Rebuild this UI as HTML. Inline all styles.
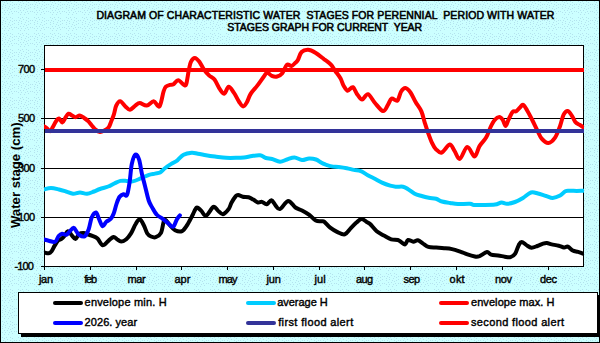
<!DOCTYPE html>
<html><head><meta charset="utf-8"><style>
html,body{margin:0;padding:0;width:600px;height:343px;overflow:hidden;background:#ccffff}
svg{display:block}
text{font-family:"Liberation Sans", sans-serif;font-weight:bold;fill:#000}
.sb{font-weight:normal;stroke:#000;stroke-width:0.4px}
.sbt{font-weight:normal;stroke:#000;stroke-width:0.55px}
</style></head><body>
<svg width="600" height="343" viewBox="0 0 600 343">
<defs>
<pattern id="dots" width="16" height="16" patternUnits="userSpaceOnUse">
<rect width="16" height="16" fill="#ccffff"/>
<path d="M2,1h1v1h-1zM6,1h1v1h-1zM10,1h1v1h-1zM4,2h1v1h-1zM12,2h1v1h-1zM7,3h1v1h-1zM0,4h1v1h-1zM3,4h1v1h-1zM10,4h1v1h-1zM14,4h1v1h-1zM5,5h1v1h-1zM12,5h1v1h-1zM2,6h1v1h-1zM9,6h1v1h-1zM5,7h1v1h-1zM14,7h1v1h-1zM2,8h1v1h-1zM8,8h1v1h-1zM12,8h1v1h-1zM10,9h1v1h-1zM4,10h1v1h-1zM7,10h1v1h-1zM0,11h1v1h-1zM11,11h1v1h-1zM14,11h1v1h-1zM2,12h1v1h-1zM5,12h1v1h-1zM9,12h1v1h-1zM12,13h1v1h-1zM4,14h1v1h-1zM8,14h1v1h-1z" fill="#b4e2ee"/>
</pattern>
<clipPath id="pc"><rect x="44" y="45" width="540" height="222"/></clipPath>
</defs>
<rect x="0" y="0" width="600" height="343" fill="url(#dots)"/>
<rect x="0.5" y="0.5" width="599" height="342" fill="none" stroke="#000" stroke-width="1"/>
<!-- title -->
<!-- plot area -->
<rect x="44.5" y="45.5" width="539" height="221" fill="#fff" stroke="#000" stroke-width="1"/>
<line x1="44" y1="118.5" x2="584" y2="118.5" stroke="#000" stroke-width="1"/>
<line x1="44" y1="168.5" x2="584" y2="168.5" stroke="#000" stroke-width="1"/>
<line x1="44" y1="217.5" x2="584" y2="217.5" stroke="#000" stroke-width="1"/>
<line x1="41" y1="69.5" x2="44" y2="69.5" stroke="#000" stroke-width="1"/>
<line x1="41" y1="118.5" x2="44" y2="118.5" stroke="#000" stroke-width="1"/>
<line x1="41" y1="168.5" x2="44" y2="168.5" stroke="#000" stroke-width="1"/>
<line x1="41" y1="217.5" x2="44" y2="217.5" stroke="#000" stroke-width="1"/>
<line x1="41" y1="266.5" x2="44" y2="266.5" stroke="#000" stroke-width="1"/>
<line x1="44.5" y1="266" x2="44.5" y2="270" stroke="#000" stroke-width="1"/>
<line x1="90.5" y1="266" x2="90.5" y2="270" stroke="#000" stroke-width="1"/>
<line x1="136.5" y1="266" x2="136.5" y2="270" stroke="#000" stroke-width="1"/>
<line x1="181.5" y1="266" x2="181.5" y2="270" stroke="#000" stroke-width="1"/>
<line x1="227.5" y1="266" x2="227.5" y2="270" stroke="#000" stroke-width="1"/>
<line x1="273.5" y1="266" x2="273.5" y2="270" stroke="#000" stroke-width="1"/>
<line x1="319.5" y1="266" x2="319.5" y2="270" stroke="#000" stroke-width="1"/>
<line x1="364.5" y1="266" x2="364.5" y2="270" stroke="#000" stroke-width="1"/>
<line x1="410.5" y1="266" x2="410.5" y2="270" stroke="#000" stroke-width="1"/>
<line x1="456.5" y1="266" x2="456.5" y2="270" stroke="#000" stroke-width="1"/>
<line x1="502.5" y1="266" x2="502.5" y2="270" stroke="#000" stroke-width="1"/>
<line x1="548.5" y1="266" x2="548.5" y2="270" stroke="#000" stroke-width="1"/>
<text transform="translate(20,175.2) rotate(-90)" font-size="13.2" text-anchor="middle">Water stage (cm)</text>
<g clip-path="url(#pc)" fill="none" stroke-linecap="round" stroke-linejoin="round">
<path d="M44.6,252.6 C45.3,252.7 47.5,253.5 48.7,253.3 C49.9,253.1 50.6,252.4 51.6,251.2 C52.6,250.0 53.4,247.7 54.5,245.9 C55.6,244.2 56.8,241.9 58.0,240.7 C59.2,239.5 60.4,239.7 61.5,238.9 C62.6,238.1 63.3,237.3 64.4,236.0 C65.5,234.7 66.7,231.5 67.9,231.3 C69.1,231.1 70.1,233.5 71.4,234.8 C72.7,236.1 74.2,239.0 75.5,238.9 C76.8,238.8 77.6,235.2 79.0,234.2 C80.4,233.2 82.2,233.0 83.7,233.1 C85.2,233.2 86.7,234.1 88.0,234.5 C89.3,234.9 90.1,235.0 91.7,235.7 C93.3,236.4 95.7,237.0 97.5,238.6 C99.3,240.2 100.8,244.8 102.6,245.2 C104.4,245.6 106.6,242.2 108.4,240.8 C110.2,239.4 112.1,237.3 113.5,237.0 C114.9,236.7 115.7,238.4 117.0,239.2 C118.3,239.9 119.5,241.5 121.1,241.5 C122.6,241.5 124.6,240.6 126.3,239.2 C128.0,237.8 129.4,235.8 131.0,233.3 C132.6,230.8 134.2,226.3 135.7,224.0 C137.1,221.7 138.3,219.1 139.7,219.3 C141.0,219.5 142.5,222.8 143.8,225.2 C145.1,227.6 146.1,231.6 147.3,233.5 C148.5,235.4 149.6,235.9 151.0,236.5 C152.4,237.1 154.0,237.8 155.7,237.2 C157.4,236.6 159.7,235.3 161.0,232.8 C162.3,230.3 162.9,224.2 163.6,222.0 C164.3,219.8 164.3,219.2 165.3,219.7 C166.3,220.2 168.1,223.2 169.7,225.0 C171.3,226.8 172.9,229.2 175.0,230.2 C177.1,231.2 180.0,232.0 182.0,231.1 C184.0,230.2 185.9,226.8 187.2,225.0 C188.5,223.2 189.0,221.8 190.0,220.0 C191.0,218.2 191.9,216.3 193.0,214.2 C194.1,212.1 195.4,208.2 196.7,207.6 C198.0,207.0 199.4,209.2 201.0,210.5 C202.6,211.8 204.0,216.2 206.1,215.6 C208.2,215.0 211.4,207.8 213.4,206.9 C215.4,206.1 216.2,209.3 217.8,210.5 C219.4,211.7 221.1,214.4 222.9,214.2 C224.7,213.9 227.2,210.9 228.7,209.0 C230.1,207.1 230.4,204.7 231.6,202.5 C232.8,200.3 234.7,197.4 235.8,196.1 C236.9,194.8 237.0,194.8 238.2,194.9 C239.4,195.0 241.1,196.3 242.8,196.7 C244.5,197.1 246.8,196.7 248.6,197.2 C250.3,197.7 251.7,198.7 253.3,199.6 C254.9,200.5 256.6,202.1 258.0,202.5 C259.4,202.9 260.6,201.6 262.0,201.9 C263.4,202.2 265.1,204.5 266.7,204.2 C268.3,203.9 269.9,200.0 271.4,200.2 C272.9,200.4 274.1,203.9 275.5,205.4 C276.9,206.9 278.0,209.8 280.1,209.0 C282.2,208.2 285.6,201.2 288.1,200.9 C290.7,200.7 293.1,205.9 295.4,207.5 C297.7,209.1 299.7,209.2 302.0,210.4 C304.3,211.6 307.0,213.1 309.3,214.8 C311.6,216.5 313.8,219.5 315.8,220.6 C317.9,221.7 320.2,221.1 321.6,221.3 C323.0,221.5 323.0,220.8 324.4,221.9 C325.8,223.0 328.0,226.0 330.2,227.7 C332.4,229.4 335.1,231.0 337.5,232.1 C339.9,233.2 342.6,234.9 344.8,234.3 C347.0,233.7 348.7,230.4 350.6,228.4 C352.5,226.4 354.6,224.2 356.4,222.6 C358.2,221.0 359.8,219.0 361.5,218.9 C363.2,218.8 365.2,221.1 366.6,221.9 C368.0,222.8 368.4,222.4 370.1,224.0 C371.8,225.6 374.4,229.3 376.7,231.2 C379.0,233.1 381.6,234.2 384.0,235.6 C386.4,236.9 388.9,238.6 391.2,239.3 C393.5,240.0 396.1,239.5 397.8,240.0 C399.5,240.5 400.2,241.5 401.4,242.2 C402.6,242.9 404.0,244.8 405.1,244.4 C406.2,244.0 406.6,240.4 408.0,240.0 C409.4,239.6 411.7,241.6 413.3,241.7 C414.9,241.8 416.3,240.0 417.9,240.3 C419.5,240.6 421.4,242.5 423.1,243.6 C424.9,244.7 426.2,246.2 428.4,246.9 C430.6,247.6 433.6,247.4 436.2,247.6 C438.8,247.8 441.5,247.9 444.1,248.2 C446.7,248.4 449.2,248.5 452.0,249.1 C454.8,249.7 458.4,251.0 460.8,251.8 C463.2,252.6 464.4,253.3 466.7,254.1 C469.0,254.9 472.7,256.1 474.8,256.5 C476.9,256.9 477.5,256.9 479.5,256.2 C481.5,255.4 485.1,252.2 487.0,252.0 C488.9,251.8 489.2,254.1 491.1,254.7 C493.0,255.3 495.8,255.2 498.1,255.5 C500.4,255.8 502.6,256.4 504.7,256.7 C506.8,257.0 508.8,257.6 510.5,257.1 C512.2,256.6 513.9,255.6 515.2,253.6 C516.6,251.6 517.5,247.3 518.6,245.4 C519.7,243.5 520.2,241.9 521.6,241.9 C523.0,241.9 525.1,244.4 526.8,245.4 C528.4,246.4 529.8,247.6 531.5,247.7 C533.2,247.8 535.4,246.7 537.3,246.0 C539.2,245.3 541.5,244.1 543.1,243.6 C544.7,243.1 545.5,242.9 546.9,243.0 C548.3,243.1 549.7,244.0 551.7,244.4 C553.7,244.8 556.7,245.2 558.7,245.7 C560.8,246.2 562.5,247.3 564.0,247.5 C565.5,247.7 566.4,246.1 567.9,246.6 C569.4,247.1 571.0,249.7 572.7,250.6 C574.4,251.5 576.3,251.4 578.0,251.9 C579.7,252.4 582.2,253.3 583.0,253.6" stroke="#000" stroke-width="4"/>
<path d="M44.0,189.5 C45.2,189.2 48.5,188.0 51.0,188.0 C53.5,188.0 56.5,188.9 59.0,189.5 C61.5,190.1 63.7,190.8 66.0,191.5 C68.3,192.2 70.7,193.6 73.0,193.8 C75.3,194.0 77.7,192.5 80.0,192.5 C82.3,192.5 84.7,194.0 87.0,193.8 C89.3,193.6 91.8,192.3 94.0,191.5 C96.2,190.7 97.6,189.8 100.0,189.0 C102.4,188.2 105.8,187.4 108.2,186.5 C110.6,185.6 112.3,184.4 114.3,183.5 C116.3,182.6 118.4,181.3 120.4,180.9 C122.4,180.5 124.5,180.8 126.5,180.9 C128.6,181.0 130.3,181.8 132.7,181.4 C135.1,181.0 138.1,179.5 140.8,178.4 C143.5,177.3 146.6,175.6 149.0,174.8 C151.4,174.0 153.2,174.0 155.0,173.6 C156.8,173.2 158.4,173.5 160.1,172.6 C161.8,171.7 163.3,169.4 165.2,168.0 C167.1,166.6 169.3,165.2 171.3,163.9 C173.3,162.6 175.4,161.8 177.4,160.3 C179.4,158.8 181.2,156.0 183.6,154.7 C186.0,153.4 189.3,152.9 191.7,152.7 C194.1,152.5 195.5,153.3 197.9,153.7 C200.3,154.1 203.2,154.7 206.0,155.2 C208.8,155.7 211.7,156.1 215.0,156.5 C218.3,156.9 222.5,157.6 226.0,157.8 C229.5,158.0 233.0,157.9 236.0,157.8 C239.0,157.8 241.3,157.8 244.0,157.5 C246.7,157.2 249.3,156.4 252.0,156.0 C254.7,155.6 257.7,155.0 260.0,155.3 C262.3,155.6 264.0,157.4 266.0,158.0 C268.0,158.6 269.7,158.4 272.0,159.0 C274.3,159.6 277.5,161.7 280.0,161.8 C282.5,161.9 284.6,160.2 287.0,159.5 C289.4,158.8 292.0,157.4 294.5,157.5 C297.0,157.6 299.6,159.8 302.0,160.0 C304.4,160.2 306.7,158.6 309.0,158.5 C311.3,158.4 314.0,158.8 316.0,159.5 C318.0,160.2 319.4,161.6 321.0,162.5 C322.6,163.4 324.0,164.0 325.8,164.7 C327.6,165.3 329.6,166.0 331.7,166.4 C333.8,166.8 336.2,166.7 338.7,167.0 C341.2,167.3 344.3,167.7 346.8,168.2 C349.3,168.7 351.5,169.4 353.8,169.9 C356.1,170.4 358.5,170.2 360.8,171.1 C363.1,172.0 365.5,173.9 367.8,175.2 C370.1,176.5 372.4,177.5 374.8,178.7 C377.2,179.9 379.4,181.4 382.0,182.6 C384.6,183.8 387.9,185.0 390.2,185.7 C392.5,186.4 393.9,186.5 396.0,186.7 C398.1,186.9 401.1,186.3 403.0,186.7 C404.9,187.1 405.8,187.8 407.7,189.0 C409.6,190.2 412.4,192.5 414.7,193.7 C417.0,194.9 419.4,195.3 421.7,196.0 C424.0,196.7 426.3,197.3 428.7,197.8 C431.1,198.3 433.8,198.2 436.0,198.8 C438.2,199.4 439.7,200.8 442.0,201.5 C444.3,202.2 447.3,202.6 450.0,203.0 C452.7,203.4 454.7,203.9 458.0,204.0 C461.3,204.1 467.3,203.6 470.0,203.8 C472.7,204.0 472.0,204.8 474.0,205.0 C476.0,205.2 478.5,205.1 482.0,205.0 C485.5,204.9 491.8,204.9 495.0,204.5 C498.2,204.1 499.5,202.6 501.5,202.5 C503.5,202.4 504.8,203.9 507.0,203.8 C509.2,203.7 512.3,203.0 515.0,202.0 C517.7,201.0 520.3,199.6 523.0,198.0 C525.7,196.4 528.5,193.2 531.0,192.5 C533.5,191.8 535.5,192.9 538.0,193.5 C540.5,194.1 543.6,195.3 546.1,196.0 C548.6,196.7 550.4,198.0 552.7,197.9 C555.0,197.8 558.0,196.7 560.1,195.6 C562.2,194.5 563.8,192.0 565.4,191.2 C567.0,190.4 567.8,190.8 569.7,190.7 C571.6,190.6 574.5,190.9 576.7,190.9 C578.9,190.9 582.0,190.7 583.0,190.7" stroke="#00ccff" stroke-width="4"/>
<path d="M44.0,126.4 C44.4,126.7 45.6,127.2 46.6,128.0 C47.6,128.8 49.1,131.3 50.1,131.2 C51.1,131.1 51.8,128.9 52.7,127.3 C53.7,125.7 54.8,123.1 55.8,121.6 C56.8,120.1 57.8,118.3 58.9,118.5 C60.0,118.7 61.3,122.6 62.4,122.5 C63.5,122.4 64.4,119.2 65.4,117.7 C66.4,116.2 67.4,114.1 68.5,113.7 C69.6,113.3 70.8,114.9 72.0,115.5 C73.2,116.1 74.2,117.2 75.5,117.2 C76.8,117.2 78.3,115.4 79.8,115.5 C81.2,115.6 82.8,117.0 84.2,118.0 C85.7,119.0 87.2,120.1 88.5,121.4 C89.8,122.7 90.8,124.3 92.0,125.7 C93.2,127.1 94.2,128.7 95.5,129.7 C96.8,130.7 98.5,131.8 99.9,131.9 C101.4,132.1 102.8,131.3 104.2,130.6 C105.7,129.9 107.4,129.0 108.6,127.5 C109.8,126.0 110.3,123.6 111.2,121.4 C112.1,119.2 113.1,117.0 113.9,114.4 C114.7,111.8 115.2,107.9 116.2,105.7 C117.2,103.5 118.7,101.1 120.2,101.2 C121.7,101.3 123.8,105.0 125.4,106.4 C127.0,107.8 128.3,109.8 130.0,109.7 C131.7,109.6 133.7,106.8 135.3,105.7 C136.9,104.6 137.8,103.0 139.7,103.0 C141.6,103.0 144.4,105.9 146.7,105.6 C149.0,105.3 151.6,101.2 153.7,101.3 C155.8,101.4 157.8,108.0 159.5,106.3 C161.2,104.6 162.5,94.6 163.6,91.3 C164.7,88.0 164.8,87.8 165.9,86.7 C167.0,85.6 168.7,85.3 170.0,84.9 C171.3,84.5 172.1,85.1 173.5,84.3 C174.9,83.5 176.4,80.2 178.2,80.3 C179.9,80.4 182.7,84.3 184.0,84.9 C185.3,85.5 185.5,86.3 186.3,83.8 C187.1,81.3 188.1,73.4 188.9,69.7 C189.7,66.0 189.9,63.8 190.9,61.8 C191.9,59.8 193.4,57.9 194.8,57.9 C196.2,57.9 197.9,59.8 199.4,61.8 C200.9,63.8 202.4,67.4 204.0,69.7 C205.6,72.0 207.4,74.0 209.2,75.6 C210.9,77.2 212.7,77.2 214.5,79.5 C216.3,81.8 218.3,87.0 220.0,89.4 C221.7,91.8 223.0,94.2 224.4,93.7 C225.8,93.2 227.1,86.8 228.7,86.7 C230.3,86.6 232.2,90.4 234.0,92.9 C235.8,95.5 237.7,99.8 239.2,102.0 C240.7,104.2 241.8,106.4 243.1,106.4 C244.4,106.4 245.8,104.0 247.0,102.0 C248.2,100.0 248.8,96.9 250.5,94.1 C252.2,91.3 255.3,88.3 257.5,85.4 C259.7,82.5 262.3,78.6 263.9,76.5 C265.5,74.4 265.9,72.7 267.2,72.6 C268.5,72.5 270.1,75.1 271.8,75.8 C273.5,76.5 275.4,76.9 277.1,76.5 C278.9,76.1 280.7,75.2 282.3,73.2 C283.9,71.2 285.4,65.9 286.9,64.7 C288.4,63.5 290.1,66.3 291.5,66.0 C292.9,65.7 294.3,63.7 295.4,62.7 C296.5,61.7 296.9,61.8 297.9,60.0 C298.9,58.2 299.9,53.7 301.6,52.0 C303.3,50.3 305.8,49.7 308.1,49.8 C310.4,49.9 312.7,51.1 315.4,52.7 C318.1,54.3 321.6,57.3 324.2,59.3 C326.8,61.2 328.8,62.3 330.7,64.4 C332.6,66.5 334.1,69.4 335.8,71.7 C337.5,74.0 339.3,76.2 340.6,78.5 C341.9,80.8 342.3,83.5 343.5,85.5 C344.7,87.5 346.1,90.4 347.6,90.7 C349.2,91.0 351.2,86.5 352.8,87.2 C354.4,87.9 355.9,92.8 357.5,94.8 C359.1,96.8 360.4,99.6 362.1,99.5 C363.9,99.4 365.9,93.6 368.0,94.2 C370.1,94.8 372.5,100.2 375.0,103.0 C377.5,105.8 381.0,110.8 383.1,111.1 C385.2,111.4 386.5,107.0 387.9,104.9 C389.3,102.8 390.0,99.3 391.6,98.6 C393.2,97.9 395.8,101.6 397.4,100.5 C399.0,99.4 399.7,93.9 401.0,91.8 C402.3,89.7 403.8,88.0 405.4,88.1 C407.0,88.2 408.8,90.2 410.5,92.5 C412.2,94.8 413.8,98.8 415.6,102.0 C417.4,105.2 419.9,107.9 421.4,111.4 C422.9,114.9 423.7,119.3 424.8,122.8 C425.9,126.3 426.8,129.2 428.0,132.5 C429.2,135.8 430.7,140.1 432.0,142.9 C433.3,145.7 434.4,147.7 436.0,149.3 C437.6,150.9 439.4,153.3 441.7,152.5 C444.0,151.7 447.6,144.8 449.7,144.5 C451.8,144.2 452.8,148.5 454.5,150.9 C456.2,153.3 457.7,159.6 459.8,158.9 C461.9,158.2 464.9,147.3 467.3,146.9 C469.8,146.5 472.5,156.6 474.5,156.5 C476.5,156.4 477.6,149.2 479.5,146.1 C481.4,142.9 484.2,140.8 486.1,137.6 C488.0,134.4 489.2,129.9 490.6,127.0 C492.0,124.1 493.2,121.7 494.7,120.0 C496.1,118.3 497.9,117.1 499.3,117.1 C500.7,117.1 501.7,118.5 502.8,120.0 C503.9,121.5 504.7,126.0 505.7,125.9 C506.7,125.8 507.4,121.8 508.6,119.5 C509.8,117.2 511.4,113.3 512.7,111.9 C514.0,110.5 515.0,112.0 516.2,111.3 C517.4,110.6 518.5,108.9 519.7,107.8 C520.9,106.7 521.9,104.4 523.2,104.9 C524.5,105.4 525.8,108.3 527.3,110.7 C528.8,113.1 530.3,116.2 532.0,119.5 C533.7,122.8 535.8,127.4 537.4,130.6 C539.0,133.8 539.9,136.5 541.7,138.6 C543.5,140.7 546.1,143.1 548.3,143.0 C550.5,142.9 552.9,140.7 554.9,137.9 C556.9,135.1 558.5,130.1 560.0,126.2 C561.5,122.3 562.3,117.1 563.6,114.6 C564.9,112.0 566.4,110.8 567.7,110.9 C569.0,111.0 570.3,113.5 571.6,115.3 C572.9,117.1 574.0,120.3 575.3,121.9 C576.6,123.5 578.3,124.0 579.6,124.8 C580.9,125.6 582.4,126.6 583.0,127.0" stroke="#ff0000" stroke-width="4"/>
<path d="M44.0,239.5 C44.8,239.7 46.9,240.3 48.7,240.7 C50.6,241.1 53.5,242.6 55.1,241.8 C56.8,241.0 57.4,237.3 58.6,236.0 C59.8,234.7 60.8,233.9 62.1,233.7 C63.4,233.5 64.9,235.2 66.2,234.8 C67.5,234.4 68.5,232.5 69.7,231.3 C71.0,230.1 72.5,227.7 73.7,227.8 C74.9,227.9 75.8,230.7 76.7,231.9 C77.6,233.1 77.7,234.1 79.0,234.8 C80.3,235.6 82.8,237.3 84.4,236.4 C86.0,235.5 87.5,232.3 88.7,229.2 C89.9,226.0 90.5,220.3 91.7,217.5 C92.9,214.7 94.8,212.2 96.0,212.4 C97.2,212.7 97.9,216.7 99.0,219.0 C100.1,221.3 101.4,225.7 102.6,226.2 C103.8,226.7 104.9,223.1 106.2,221.9 C107.5,220.7 109.3,220.4 110.6,219.0 C111.8,217.6 112.7,216.1 113.7,213.5 C114.7,210.9 115.7,206.1 116.7,203.3 C117.7,200.5 118.5,198.3 119.6,196.8 C120.7,195.3 122.3,194.5 123.5,194.2 C124.7,193.9 126.0,197.1 127.0,195.0 C128.0,192.9 128.9,186.7 129.7,181.5 C130.5,176.3 130.8,168.5 131.8,164.0 C132.8,159.5 134.3,155.3 135.5,154.6 C136.7,153.9 138.0,156.4 139.1,159.7 C140.2,163.0 141.0,169.8 142.0,174.2 C143.0,178.6 143.9,181.5 145.0,185.9 C146.1,190.3 147.5,196.9 148.7,200.5 C149.9,204.1 150.9,205.2 152.2,207.5 C153.5,209.8 154.8,212.6 156.6,214.5 C158.3,216.4 160.8,217.4 162.7,218.8 C164.6,220.2 166.2,221.9 168.0,223.2 C169.8,224.5 171.8,227.3 173.2,226.7 C174.6,226.1 175.6,221.6 176.7,219.7 C177.8,217.8 179.4,216.0 179.9,215.3" stroke="#0000ff" stroke-width="4"/>
<line x1="45" y1="131" x2="584" y2="131" stroke="#333399" stroke-width="4" stroke-linecap="butt"/>
<line x1="45" y1="70" x2="584" y2="70" stroke="#ff0000" stroke-width="4" stroke-linecap="butt"/>
</g>
<rect x="21" y="295" width="579" height="42" fill="#000"/>
<rect x="18.5" y="292.5" width="579" height="41" fill="#fff" stroke="#000" stroke-width="1"/>
<line x1="55" y1="303" x2="81" y2="303" stroke="#000" stroke-width="4" stroke-linecap="round"/>
<line x1="248" y1="303" x2="274" y2="303" stroke="#00ccff" stroke-width="4" stroke-linecap="round"/>
<line x1="441" y1="303" x2="467" y2="303" stroke="#ff0000" stroke-width="4" stroke-linecap="round"/>
<line x1="55" y1="323" x2="81" y2="323" stroke="#0000ff" stroke-width="4" stroke-linecap="round"/>
<line x1="248" y1="323" x2="274" y2="323" stroke="#333399" stroke-width="4" stroke-linecap="round"/>
<line x1="441" y1="323" x2="467" y2="323" stroke="#ff0000" stroke-width="4" stroke-linecap="round"/>
<text class="sbt" x="96.40" y="19" font-size="10.5" textLength="458.00" lengthAdjust="spacing" xml:space="preserve">DIAGRAM OF CHARACTERISTIC WATER  STAGES FOR PERENNIAL  PERIOD WITH WATER</text>
<text class="sbt" x="227.20" y="30.5" font-size="10.5" textLength="195.00" lengthAdjust="spacing" xml:space="preserve">STAGES GRAPH FOR CURRENT  YEAR</text>
<text class="sb" x="18.00" y="73" font-size="11" textLength="17.00" lengthAdjust="spacing" xml:space="preserve">700</text>
<text class="sb" x="18.00" y="122" font-size="11" textLength="17.00" lengthAdjust="spacing" xml:space="preserve">500</text>
<text class="sb" x="18.00" y="172" font-size="11" textLength="17.00" lengthAdjust="spacing" xml:space="preserve">300</text>
<text class="sb" x="18.00" y="221" font-size="11" textLength="17.00" lengthAdjust="spacing" xml:space="preserve">100</text>
<text class="sb" x="14.40" y="270" font-size="11" textLength="19.50" lengthAdjust="spacing" xml:space="preserve">-100</text>
<text class="sb" x="39.00" y="283" font-size="11" textLength="14.00" lengthAdjust="spacing" xml:space="preserve">jan</text>
<text class="sb" x="84.20" y="283" font-size="11" textLength="13.00" lengthAdjust="spacing" xml:space="preserve">feb</text>
<text class="sb" x="127.60" y="283" font-size="11" textLength="18.00" lengthAdjust="spacing" xml:space="preserve">mar</text>
<text class="sb" x="174.40" y="283" font-size="11" textLength="16.00" lengthAdjust="spacing" xml:space="preserve">apr</text>
<text class="sb" x="218.40" y="283" font-size="11" textLength="19.00" lengthAdjust="spacing" xml:space="preserve">may</text>
<text class="sb" x="266.50" y="283" font-size="11" textLength="14.25" lengthAdjust="spacing" xml:space="preserve">jun</text>
<text class="sb" x="314.60" y="283" font-size="11" textLength="11.00" lengthAdjust="spacing" xml:space="preserve">jul</text>
<text class="sb" x="356.00" y="283" font-size="11" textLength="17.00" lengthAdjust="spacing" xml:space="preserve">aug</text>
<text class="sb" x="403.50" y="283" font-size="11" textLength="16.50" lengthAdjust="spacing" xml:space="preserve">sep</text>
<text class="sb" x="449.60" y="283" font-size="11" textLength="15.00" lengthAdjust="spacing" xml:space="preserve">okt</text>
<text class="sb" x="495.00" y="283" font-size="11" textLength="17.00" lengthAdjust="spacing" xml:space="preserve">nov</text>
<text class="sb" x="540.00" y="283" font-size="11" textLength="17.00" lengthAdjust="spacing" xml:space="preserve">dec</text>
<text class="sb" x="84.60" y="305.5" font-size="11" textLength="82.00" lengthAdjust="spacing" xml:space="preserve">envelope min. H</text>
<text class="sb" x="84.60" y="325.5" font-size="11" textLength="52.50" lengthAdjust="spacing" xml:space="preserve">2026. year</text>
<text class="sb" x="277.20" y="305.5" font-size="11" textLength="50.50" lengthAdjust="spacing" xml:space="preserve">average H</text>
<text class="sb" x="278.20" y="325.5" font-size="11" textLength="75.00" lengthAdjust="spacing" xml:space="preserve">first flood alert</text>
<text class="sb" x="471.00" y="305.5" font-size="11" textLength="83.50" lengthAdjust="spacing" xml:space="preserve">envelope max. H</text>
<text class="sb" x="471.00" y="325.5" font-size="11" textLength="93.00" lengthAdjust="spacing" xml:space="preserve">second flood alert</text>
</svg>
</body></html>
